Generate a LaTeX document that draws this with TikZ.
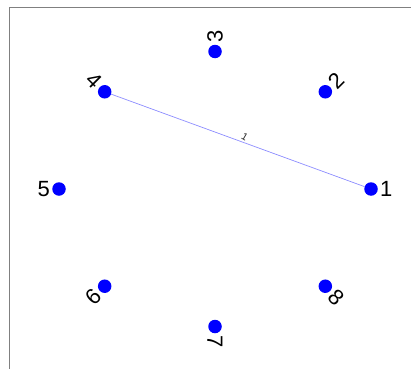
\documentclass[tikz,border=0pt]{standalone}
\usepackage{fontspec}
\setmainfont{Liberation Sans}
\usepackage{tikz}
\usetikzlibrary{calc}
\tikzstyle{vertex} = [circle, fill=blue, draw=none, inner sep=0pt, minimum size=13.5pt]
\tikzstyle{vlabel} = [font=\fontsize{22}{24}\selectfont, inner sep=0pt, text=black]
\tikzstyle{edge} = [draw=blue!45, line width=0.7pt]
\tikzstyle{wlabel} = [font=\fontsize{10}{11}\selectfont, inner sep=0pt, text=black!85]
\tikzstyle{axisline} = [draw=gray, line width=1pt]

\begin{document}
\begin{tikzpicture}[x=1pt,y=-1pt]
\useasboundingbox (0,0) rectangle (411,369);

\draw [axisline] (411,8) -- (9,8) -- (9,369);

\foreach \k in {1,...,8} {
  \pgfmathsetmacro{\ang}{45*(\k-1)}
  \node (v\k) [vertex] at ({215+156*cos(\ang)},{189-137.5*sin(\ang)}) {};
}

\foreach \k/\rot/\anc in {1/0/west, 2/45/west, 3/90/west, 4/-45/east,
                          5/0/east, 6/45/east, 7/270/west, 8/315/west} {
  \pgfmathsetmacro{\ang}{45*(\k-1)}
  \node (l\k) [vlabel, anchor=\anc, rotate=\rot]
    at ($(v\k)+({9*cos(\ang)},{-9*sin(\ang)})$) {\k};
}

\draw [edge] (v4) -- (v1) node (w41) [wlabel, pos=0.52, above=2pt, rotate=-30] {1};

\end{tikzpicture}
\end{document}
